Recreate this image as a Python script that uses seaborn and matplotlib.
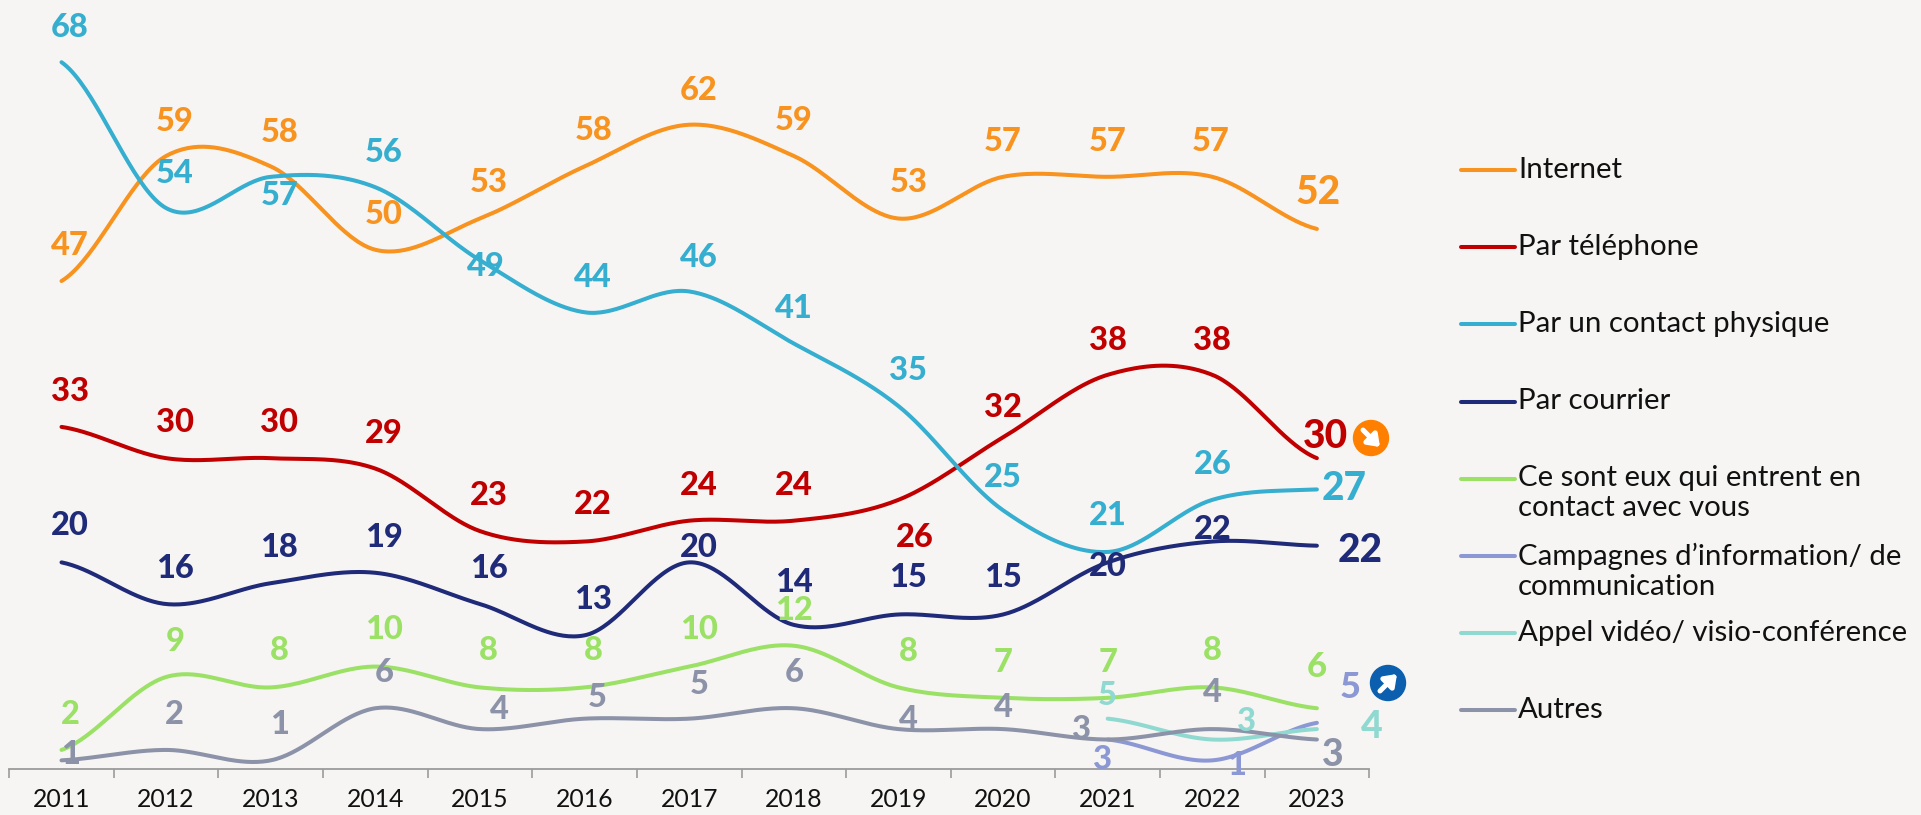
import numpy as np
import pandas as pd
import matplotlib
matplotlib.use("Agg")
import matplotlib.pyplot as plt
from matplotlib.lines import Line2D
from matplotlib.patches import Ellipse
from matplotlib.transforms import IdentityTransform
import seaborn as sns

years = list(range(2011, 2024))
internet = [47, 59, 58, 50, 53, 58, 62, 59, 53, 57, 57, 57, 52]
telephone = [33, 30, 30, 29, 23, 22, 24, 24, 26, 32, 38, 38, 30]
physique = [68, 54, 57, 56, 49, 44, 46, 41, 35, 25, 21, 26, 27]
courrier = [20, 16, 18, 19, 16, 13, 20, 14, 15, 15, 20, 22, 21.6]
contact = [2, 9, 8, 10, 8, 8, 10, 12, 8, 7, 7, 8, 6]
campagnes = [3, 1, 4.6]
appel = [5, 3, 4]
autres = [1, 2, 1, 6, 4, 5, 5, 6, 4, 4, 3, 4, 3]

names = ["Internet", "Par téléphone", "Par un contact physique", "Par courrier",
         "Ce sont eux qui entrent en\ncontact avec vous",
         "Campagnes d’information/ de\ncommunication",
         "Appel vidéo/ visio-conférence", "Autres"]
colors = ["#F7931E", "#C00000", "#35AECF", "#1F2A78", "#9BE166", "#8C98D4", "#90D9D1", "#8C93A8"]
series = [internet, telephone, physique, courrier, contact, campagnes, appel, autres]
starts = [0, 0, 0, 0, 0, 10, 10, 0]

# label offsets from each point (dx, dy with y downward), in shrunk-reference pixels
off_internet = [(7,-29),(7,-28),(7,-28),(7,-29),(7,-29),(7,-29),(8,-28),(0,-29),(8,-29),(0,-29),(0,-29),(-1,-29),(1,-30)]
off_telephone = [(7,-29),(7,-29),(7,-29),(7,-29),(7,-29),(7,-30),(8,-29),(0,-29),(13,31),(0,-24),(0,-28),(0,-28),(7,-18)]
off_physique = [(7,-28),(7,-28),(7,15),(7,-28),(5,5),(7,-28),(8,-28),(0,-29),(8,-29),(0,-27),(0,-30),(0,-29),(22,-1)]
off_courrier = [(7,-30),(7,-29),(7,-29),(7,-29),(7,-29),(7,-29),(8,-12),(0,-35),(8,-30),(0,-30),(0,3),(0,-10),(35,4)]
off_contact = [(7,-29),(7,-29),(7,-30),(7,-30),(7,-30),(7,-30),(8,-30),(0,-29),(8,-29),(0,-29),(0,-29),(0,-30),(0,-34)]
off_campagnes = [(-4,16),(20,4),(27,-29)]
off_appel = [(0,-19),(28,-15),(45,-2)]
off_autres = [(7,-5),(7,-29),(7,-29),(7,-29),(16,-16),(10,-17),(8,-28),(0,-29),(8,-8),(0,-18),(-21,-8),(0,-30),(13,13)]
offsets = [off_internet, off_telephone, off_physique, off_courrier, off_contact,
           off_campagnes, off_appel, off_autres]
last_sizes = [28, 28, 28, 28, 25, 26, 27, 27]
label_size = 23.5
shrink = 1921 / 1568


def smooth(values, n=40):
    """Office-style smoothed line through the values (Bezier, Catmull-Rom tangents)."""
    p = np.array(values, dtype=float)
    xs, ys = [], []
    for i in range(len(p) - 1):
        prev_y, next_y = p[max(i - 1, 0)], p[min(i + 2, len(p) - 1)]
        c1 = p[i] + (p[i + 1] - prev_y) / 6
        c2 = p[i + 1] - (next_y - p[i]) / 6
        t = np.linspace(0, 1, n)
        ys.append((1-t)**3*p[i] + 3*(1-t)**2*t*c1 + 3*(1-t)*t**2*c2 + t**3*p[i+1])
        xs.append(i + t)
    return np.concatenate(xs), np.concatenate(ys)


frames = []
for name, vals, s in zip(names, series, starts):
    x, y = smooth(vals)
    frames.append(pd.DataFrame({"x": x + s, "y": y, "series": name}))
df = pd.concat(frames, ignore_index=True)

W, H = 1921, 815
sns.set_theme(style="white")
plt.rcParams["font.family"] = ["Lato", "DejaVu Sans"]
BG = "#F6F5F3"
fig = plt.figure(figsize=(W / 100, H / 100), dpi=100, facecolor=BG)
ax = fig.add_axes([9.2 / W, 46 / H, 1360 / W, 769 / H], facecolor="none")

sns.lineplot(data=df, x="x", y="y", hue="series", hue_order=names,
             palette=dict(zip(names, colors)), legend=False, sort=False,
             estimator=None, errorbar=None, linewidth=2.9, ax=ax,
             solid_capstyle="round", clip_on=False)

ax.set_xlim(-0.5, 12.5)
ax.set_ylim(0.17, 0.17 + 769 / 10.42)
ax.set_xlabel("")
ax.set_ylabel("")
sns.despine(ax=ax, left=True)
ax.spines["bottom"].set_color("#9B9B9B")
ax.spines["bottom"].set_linewidth(1.3)
ax.set_yticks([])
ax.set_xticks(np.arange(-0.5, 13, 1))
ax.set_xticklabels([])
ax.tick_params(axis="x", which="major", length=6.5, width=1.2, color="#9B9B9B", bottom=True)
ax.set_xticks(np.arange(13), minor=True)
ax.set_xticklabels([str(y) for y in years], minor=True, fontsize=17.8, color="#111111")
ax.tick_params(axis="x", which="minor", length=0, pad=14)

for vals, s, offs, color, big in zip(series, starts, offsets, colors, last_sizes):
    for i, (v, (dx, dy)) in enumerate(zip(vals, offs)):
        ax.annotate(str(int(round(v))), (i + s, v),
                    xytext=(dx * shrink, -dy * shrink), textcoords="offset pixels",
                    ha="center", va="center", color=color, fontweight=900,
                    fontsize=big if i + s == 12 else label_size, annotation_clip=False)

# legend
leg_top = 170
leg_step = 77.2
for k, (name, color) in enumerate(zip(names, colors)):
    yy = H - (leg_top + k * leg_step)
    fig.add_artist(Line2D([1461, 1515], [yy, yy], color=color, lw=2.9,
                          transform=IdentityTransform(), solid_capstyle="round"))
    fig.text(1518, yy + 13.5, name, transform=IdentityTransform(), fontsize=21.2,
             color="#111111", ha="left", va="top", linespacing=1.18)

# trend badges: centre, colour, arrow tail and tip relative to the centre (y upward)
badges = [(1371, 438, "#FF8000", (-8, 8), (9, -9)),
          (1388, 683, "#0B5FAE", (-8, -8), (9, 9))]
for cx, cy, color, tail, tip in badges:
    yy = H - cy
    ax.add_patch(Ellipse((cx, yy), 35, 35, color=color, transform=IdentityTransform(),
                         clip_on=False, zorder=5))
    ax.annotate("", xy=(cx + tip[0], yy + tip[1]), xytext=(cx + tail[0], yy + tail[1]),
                xycoords="figure pixels", textcoords="figure pixels", zorder=6,
                arrowprops=dict(arrowstyle="-|>,head_length=0.55,head_width=0.4", color="white",
                                lw=3.6, shrinkA=0, shrinkB=0))

fig.savefig("out.png", dpi=100, facecolor=BG)
